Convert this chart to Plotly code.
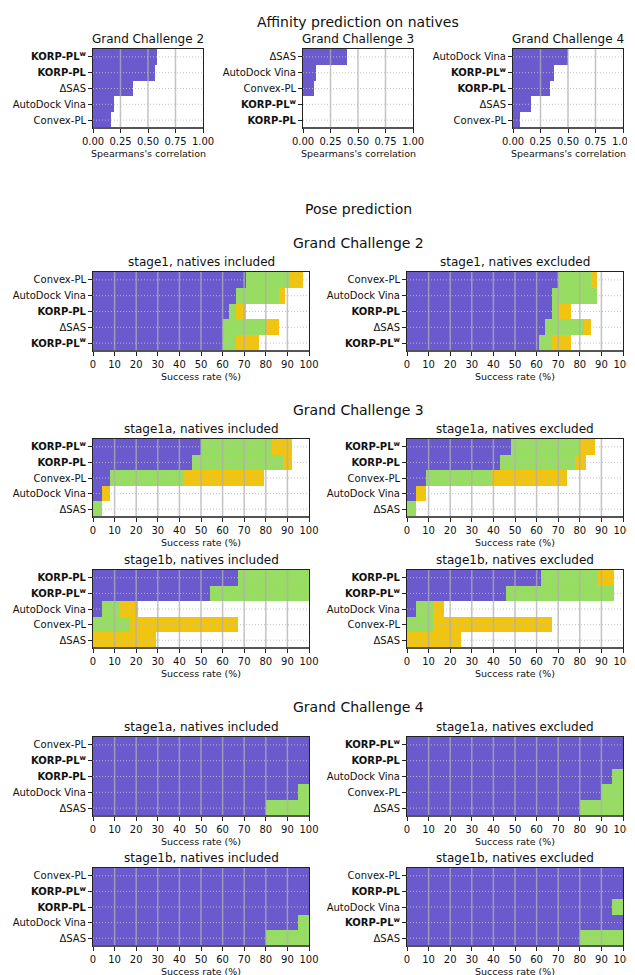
import plotly.graph_objects as go

W, H = 635, 975
PAGE = 8  # default body margin of the html page, shifts the whole figure

KW = "<b>KORP-PL<sup>w</sup></b>"
KP = "<b>KORP-PL</b>"
DS = "ΔSAS"
VINA = "AutoDock Vina"
CVX = "Convex-PL"

BLUE = "#6a5acd"
GREEN = "#97dd62"
GOLD = "#f1c40f"

# affinity prediction on natives, Spearman correlation
aff_gc2_labels = [KW, KP, DS, VINA, CVX]
aff_gc2_values = [0.586, 0.568, 0.366, 0.19, 0.16]
aff_gc3_labels = [DS, VINA, CVX, KW, KP]
aff_gc3_values = [0.40, 0.114, 0.099, 0.0, 0.0]
aff_gc4_labels = [VINA, KW, KP, DS, CVX]
aff_gc4_values = [0.50, 0.374, 0.337, 0.165, 0.066]

# pose prediction success rates (%), cumulative tiers
gc2_s1_inc_labels = [CVX, VINA, KP, DS, KW]
gc2_s1_inc_t1 = [71, 66, 63, 60, 60]
gc2_s1_inc_t2 = [91, 86, 66, 80, 66]
gc2_s1_inc_t3 = [97, 89, 71, 86, 77]

gc2_s1_exc_labels = [CVX, VINA, KP, DS, KW]
gc2_s1_exc_t1 = [70, 67, 67, 64, 61]
gc2_s1_exc_t2 = [85, 88, 70, 82, 67]
gc2_s1_exc_t3 = [88, 88, 76, 85, 76]

gc3_s1a_inc_labels = [KW, KP, CVX, VINA, DS]
gc3_s1a_inc_t1 = [50, 46, 8, 4, 0]
gc3_s1a_inc_t2 = [83, 88, 42, 4, 4]
gc3_s1a_inc_t3 = [92, 92, 79, 8, 4]

gc3_s1a_exc_labels = [KW, KP, CVX, VINA, DS]
gc3_s1a_exc_t1 = [48, 43, 9, 4, 0]
gc3_s1a_exc_t2 = [80, 78, 39, 4, 4]
gc3_s1a_exc_t3 = [87, 83, 74, 9, 4]

gc3_s1b_inc_labels = [KP, KW, VINA, CVX, DS]
gc3_s1b_inc_t1 = [67, 54, 4, 0, 0]
gc3_s1b_inc_t2 = [100, 100, 12, 17, 0]
gc3_s1b_inc_t3 = [100, 100, 21, 67, 29]

gc3_s1b_exc_labels = [KP, KW, VINA, CVX, DS]
gc3_s1b_exc_t1 = [62, 46, 4, 0, 0]
gc3_s1b_exc_t2 = [88, 96, 12, 12, 0]
gc3_s1b_exc_t3 = [96, 96, 17, 67, 25]

gc4_s1a_inc_labels = [CVX, KW, KP, VINA, DS]
gc4_s1a_inc_t1 = [100, 100, 100, 95, 80]
gc4_s1a_inc_t2 = [100, 100, 100, 100, 100]

gc4_s1a_exc_labels = [KW, KP, VINA, CVX, DS]
gc4_s1a_exc_t1 = [100, 100, 95, 90, 80]
gc4_s1a_exc_t2 = [100, 100, 100, 100, 100]

gc4_s1b_inc_labels = [CVX, KW, KP, VINA, DS]
gc4_s1b_inc_t1 = [100, 100, 100, 95, 80]
gc4_s1b_inc_t2 = [100, 100, 100, 100, 100]

gc4_s1b_exc_labels = [CVX, KP, VINA, KW, DS]
gc4_s1b_exc_t1 = [100, 100, 95, 100, 80]
gc4_s1b_exc_t2 = [100, 100, 100, 100, 100]

FONT = "DejaVu Sans"

fig = go.Figure()
shapes = []
annotations = []


def fx(x):
    return (x - PAGE) / W


def fy(y):
    return 1 - (y - PAGE) / H


def text(s, x, y, size):
    annotations.append(dict(text=s, x=fx(x), y=fy(y), xref="paper", yref="paper",
                            showarrow=False, xanchor="center", yanchor="middle",
                            font=dict(size=size, color="#111", family=FONT)))


def add_panel(n, xpx, ypx, labels, series, xmax, dtick, fmt, xtitle, title):
    sfx = "" if n == 1 else str(n)
    for values, color in series:
        fig.add_trace(go.Bar(x=values, y=labels, orientation="h", width=1,
                             marker=dict(color=color, line=dict(width=0)),
                             xaxis="x" + sfx, yaxis="y" + sfx, showlegend=False))
    fig.layout["xaxis" + sfx] = dict(
        domain=[fx(xpx[0]), fx(xpx[1])], anchor="y" + sfx, range=[0, xmax],
        dtick=dtick, tickformat=fmt, showgrid=False, zeroline=False, automargin=False,
        ticks="outside", ticklen=4, tickcolor="#222", showline=True, mirror=True,
        linecolor="#222", linewidth=1, tickfont=dict(size=10, color="#111"))
    fig.layout["yaxis" + sfx] = dict(
        domain=[fy(ypx[1]), fy(ypx[0])], anchor="x" + sfx, type="category",
        autorange="reversed", showgrid=False, ticks="outside", ticklen=4,
        automargin=False, tickcolor="#222", showline=True, mirror=True,
        linecolor="#222", linewidth=1, tickfont=dict(size=10, color="#111"))
    # gridlines drawn over the bars
    k = dtick
    while k < xmax - 1e-9:
        shapes.append(dict(type="line", xref="x" + sfx, yref="y" + sfx + " domain",
                           x0=k, x1=k, y0=0, y1=1, layer="above",
                           line=dict(color="rgba(175,175,175,0.75)", width=1.5)))
        k += dtick
    for lab in labels:
        shapes.append(dict(type="line", xref="x" + sfx + " domain", yref="y" + sfx,
                           x0=0, x1=1, y0=lab, y1=lab, layer="above",
                           line=dict(color="rgba(190,190,190,0.9)", width=1, dash="1px,2px")))
    # slightly heavier bottom spine
    shapes.append(dict(type="line", xref="x" + sfx + " domain", yref="y" + sfx + " domain",
                       x0=0, x1=1, y0=0, y1=0, layer="above",
                       line=dict(color="#555", width=2)))
    cx = (xpx[0] + xpx[1]) / 2
    text(title, cx, ypx[0] - 10, 12)
    text(xtitle, cx, ypx[1] + 25, 9.5)


SP = "Spearmans's correlation"
SR = "Success rate (%)"
LX = (93, 309)
RX = (407, 623)
CX = 358

text("Affinity prediction on natives", CX, 22, 14)
add_panel(1, (93, 203), (49, 128), aff_gc2_labels, [(aff_gc2_values, BLUE)], 1, 0.25, ".2f", SP, "Grand Challenge 2")
add_panel(2, (303, 413), (49, 128), aff_gc3_labels, [(aff_gc3_values, BLUE)], 1, 0.25, ".2f", SP, "Grand Challenge 3")
add_panel(3, (513, 623), (49, 128), aff_gc4_labels, [(aff_gc4_values, BLUE)], 1, 0.25, ".2f", SP, "Grand Challenge 4")

text("Pose prediction", CX, 209, 14)
text("Grand Challenge 2", CX, 243, 14)
add_panel(4, LX, (272, 351), gc2_s1_inc_labels,
          [(gc2_s1_inc_t3, GOLD), (gc2_s1_inc_t2, GREEN), (gc2_s1_inc_t1, BLUE)],
          100, 10, "d", SR, "stage1, natives included")
add_panel(5, RX, (272, 351), gc2_s1_exc_labels,
          [(gc2_s1_exc_t3, GOLD), (gc2_s1_exc_t2, GREEN), (gc2_s1_exc_t1, BLUE)],
          100, 10, "d", SR, "stage1, natives excluded")

text("Grand Challenge 3", CX, 410, 14)
add_panel(6, LX, (439, 517), gc3_s1a_inc_labels,
          [(gc3_s1a_inc_t3, GOLD), (gc3_s1a_inc_t2, GREEN), (gc3_s1a_inc_t1, BLUE)],
          100, 10, "d", SR, "stage1a, natives included")
add_panel(7, RX, (439, 517), gc3_s1a_exc_labels,
          [(gc3_s1a_exc_t3, GOLD), (gc3_s1a_exc_t2, GREEN), (gc3_s1a_exc_t1, BLUE)],
          100, 10, "d", SR, "stage1a, natives excluded")
add_panel(8, LX, (570, 648), gc3_s1b_inc_labels,
          [(gc3_s1b_inc_t3, GOLD), (gc3_s1b_inc_t2, GREEN), (gc3_s1b_inc_t1, BLUE)],
          100, 10, "d", SR, "stage1b, natives included")
add_panel(9, RX, (570, 648), gc3_s1b_exc_labels,
          [(gc3_s1b_exc_t3, GOLD), (gc3_s1b_exc_t2, GREEN), (gc3_s1b_exc_t1, BLUE)],
          100, 10, "d", SR, "stage1b, natives excluded")

text("Grand Challenge 4", CX, 707, 14)
add_panel(10, LX, (737, 816), gc4_s1a_inc_labels,
          [(gc4_s1a_inc_t2, GREEN), (gc4_s1a_inc_t1, BLUE)],
          100, 10, "d", SR, "stage1a, natives included")
add_panel(11, RX, (737, 816), gc4_s1a_exc_labels,
          [(gc4_s1a_exc_t2, GREEN), (gc4_s1a_exc_t1, BLUE)],
          100, 10, "d", SR, "stage1a, natives excluded")
add_panel(12, LX, (868, 946), gc4_s1b_inc_labels,
          [(gc4_s1b_inc_t2, GREEN), (gc4_s1b_inc_t1, BLUE)],
          100, 10, "d", SR, "stage1b, natives included")
add_panel(13, RX, (868, 946), gc4_s1b_exc_labels,
          [(gc4_s1b_exc_t2, GREEN), (gc4_s1b_exc_t1, BLUE)],
          100, 10, "d", SR, "stage1b, natives excluded")

fig.update_layout(
    width=W, height=H, margin=dict(l=0, r=0, t=0, b=0),
    paper_bgcolor="white", plot_bgcolor="white",
    barmode="overlay", bargap=0,
    font=dict(family=FONT, color="#111"),
    shapes=shapes, annotations=annotations,
)

fig.write_html("out.html")
